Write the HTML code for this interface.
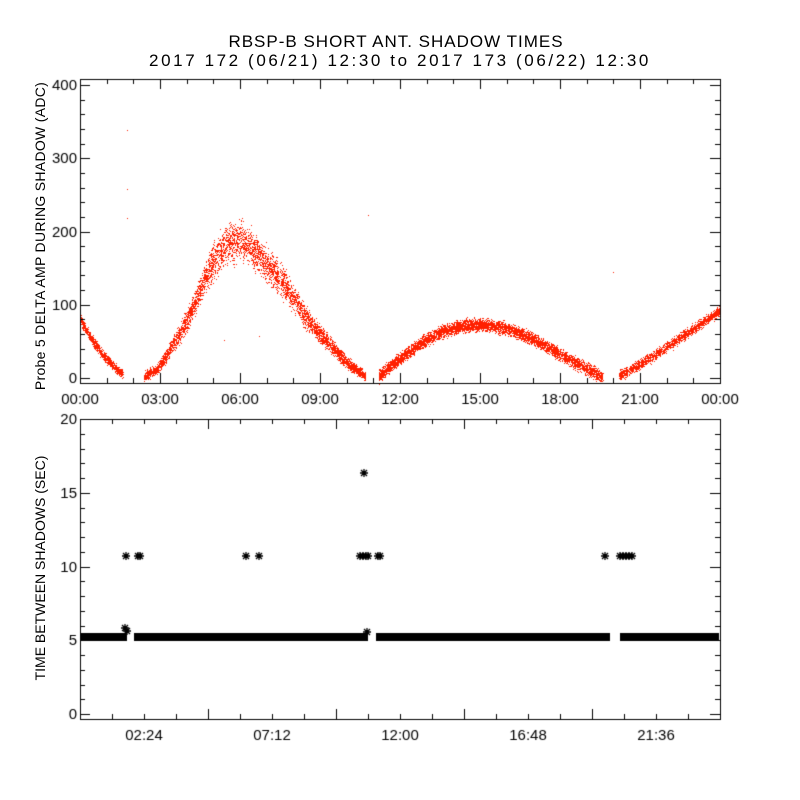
<!DOCTYPE html>
<html><head><meta charset="utf-8"><style>
html,body{margin:0;padding:0;background:#fff;}
body{width:800px;height:800px;position:relative;overflow:hidden;font-family:"Liberation Sans",sans-serif;}
canvas{position:absolute;left:0;top:0;}
.t{position:absolute;font-size:15px;color:#000;white-space:nowrap;}
</style></head><body>
<canvas id="c" width="800" height="800"></canvas>
<div class="t" style="left:0;width:792px;text-align:center;top:32px;font-size:17px;letter-spacing:1px">RBSP-B SHORT ANT. SHADOW TIMES</div>
<div class="t" style="left:0;width:800px;text-align:center;top:51px;font-size:17px;letter-spacing:2.6px">2017 172 (06/21) 12:30 to 2017 173 (06/22) 12:30</div>
<div class="t" style="left:-120px;top:228px;width:320px;text-align:center;transform:rotate(-90deg);font-size:14px;letter-spacing:0.3px">Probe 5 DELTA AMP DURING SHADOW (ADC)</div>
<div class="t" style="left:-80px;top:560px;width:240px;text-align:center;transform:rotate(-90deg);font-size:14px">TIME BETWEEN SHADOWS (SEC)</div>
<script>
const c=document.getElementById('c').getContext('2d');
c.font='15px "Liberation Sans",sans-serif';
let s=12345;function r(){s=(s*16807)%2147483647;return s/2147483647;}
function g(){return (r()+r()+r()-1.5)/1.5;}
const L=80,R=720,T1=79,B1=383;
const yt=v=>378-v*0.7325, xt=h=>80+h*640/24;
c.fillStyle='#ff2000';
function seg(h0,h1,f,w,n){for(let i=0;i<n;i++){const h=h0+(h1-h0)*r();const v=f(h)+g()*w(h);c.fillRect(Math.round(xt(h)),Math.round(yt(v)),1,1);}}
seg(0,1.6,h=>80-75*(h/1.6)+ -8*Math.sin(Math.PI*h/1.6),h=>9,800);
const a1=h=>{const p=[[2.4,3],[2.9,12],[3.3,35],[3.8,65],[4.2,95],[4.6,130],[5.0,160],[5.5,185],[6.0,190],[6.5,175],[7.0,155],[7.5,135],[8.0,110],[8.5,80],[9.0,60],[9.5,40],[10.0,22],[10.7,2]];for(let i=0;i<p.length-1;i++)if(h<=p[i+1][0]){const t=(h-p[i][0])/(p[i+1][0]-p[i][0]);return p[i][1]+t*(p[i+1][1]-p[i][1]);}return 2;};
seg(2.4,10.7,a1,h=>{const v=a1(h);return 8+v*0.16;},4500);
const a2=h=>{const t=(h-11.2)/(19.6-11.2);return 3+70*Math.pow(Math.sin(Math.PI*Math.pow(t,0.85)),1.2);};
seg(11.2,19.6,a2,h=>12,5000);
seg(20.2,24,h=>3+90*Math.pow((h-20.2)/3.8,1.1),h=>10,1500);
[[1.75,338],[1.75,258],[1.75,218],[10.8,223],[20.0,145],[6.7,58],[5.4,52]].forEach(p=>c.fillRect(Math.round(xt(p[0])),Math.round(yt(p[1])),1,1));
c.fillStyle='#000';c.strokeStyle='#000';c.lineWidth=1;
function box(t,b){c.strokeRect(L+0.5,t+0.5,R-L,b-t);}
box(T1,B1);
function hl(x1,x2,y){c.fillRect(Math.min(x1,x2),Math.round(y),Math.abs(x2-x1),1);}
function vl(x,y1,y2){c.fillRect(Math.round(x),Math.min(y1,y2),1,Math.abs(y2-y1));}
for(let v=0;v<=400;v+=20){const y=yt(v),len=v%100==0?10:5;hl(L,L+len,y);hl(R-len,R,y);}
c.textAlign='right';c.textBaseline='middle';
for(let v=0;v<=400;v+=100)c.fillText(String(v),L-3,yt(v)+1);
for(let h=0;h<=24;h+=1){const x=xt(h),len=h%3==0?10:5;vl(x,B1-len,B1);vl(x,T1,T1+len);}
c.textAlign='center';c.textBaseline='top';
['00:00','03:00','06:00','09:00','12:00','15:00','18:00','21:00','00:00'].forEach((t,i)=>c.fillText(t,80+i*80,392));
const T2=419,B2=719;const yb=v=>714-v*14.75;
box(T2,B2);
for(let v=0;v<=20;v++){const y=yb(v),len=v%5==0?10:5;hl(L,L+len,y);hl(R-len,R,y);}
c.textAlign='right';c.textBaseline='middle';
for(let v=0;v<=20;v+=5)c.fillText(String(v),L-3,yb(v)+1);
for(let i=0;i<=20;i++){const x=80+i*32,len=i%4==0?10:5;vl(x,B2-len,B2);vl(x,T2,T2+len);}
c.textAlign='center';c.textBaseline='top';
['02:24','07:12','12:00','16:48','21:36'].forEach((t,i)=>c.fillText(t,144+i*128,728));
[[81,127],[134,368],[376,610],[620,719]].forEach(p=>c.fillRect(p[0],633,p[1]-p[0],8));
function star(x,y){c.beginPath();c.moveTo(x-4,y);c.lineTo(x+4,y);c.moveTo(x,y-4);c.lineTo(x,y+4);c.moveTo(x-3,y-3);c.lineTo(x+3,y+3);c.moveTo(x-3,y+3);c.lineTo(x+3,y-3);c.stroke();}
c.lineWidth=1.3;
[126,138,140,246,259,360,363,366,368,378,380,605,620,623,626,629,632].forEach(x=>star(x,556));
star(364,473);star(125,628);star(127,631);star(367,632);
</script>
</body></html>
